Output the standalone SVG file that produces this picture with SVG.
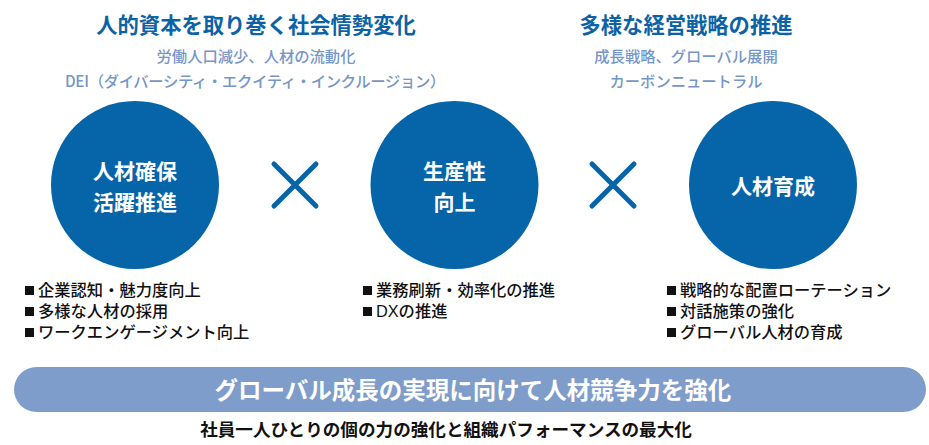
<svg xmlns="http://www.w3.org/2000/svg" width="929" height="445" viewBox="0 0 929 445">
<style>
text{font-family:"Noto Sans CJK JP","Noto Sans",sans-serif;dominant-baseline:central}
.t{font-size:21.3px;font-weight:700;fill:#0b63a6;text-anchor:middle}
.s{font-size:15.3px;font-weight:500;fill:#7596c8;text-anchor:middle}
.c{fill:#0565a8}
.ct{font-size:21px;font-weight:700;fill:#fff;text-anchor:middle}
.x{stroke:#0565a8;stroke-width:5;stroke-linecap:round;fill:none}
.b{font-family:"Liberation Sans","Noto Sans CJK JP",sans-serif;font-size:16.3px;font-weight:500;fill:#111}
.q{fill:#111}
</style>
<defs>
<rect id="sq" width="9" height="9"/>
</defs>
<g id="header-left">
<text class="t" x="256" y="23">人的資本を取り巻く社会情勢変化</text>
<text class="s" x="256" y="55">労働人口減少、人材の流動化</text>
<text class="s" x="255" y="80" letter-spacing="-0.3">DEI（ダイバーシティ・エクイティ・インクルージョン）</text>
</g>
<g id="header-right">
<text class="t" x="686" y="23">多様な経営戦略の推進</text>
<text class="s" x="686" y="55">成長戦略、グローバル展開</text>
<text class="s" x="686" y="80">カーボンニュートラル</text>
</g>
<g id="node-1">
<circle class="c" cx="135" cy="185" r="84"/>
<text class="ct" x="135" y="170">人材確保</text>
<text class="ct" x="135" y="201">活躍推進</text>
</g>
<g id="node-2">
<circle class="c" cx="454.5" cy="185" r="84"/>
<text class="ct" x="454.5" y="170">生産性</text>
<text class="ct" x="454.5" y="201">向上</text>
</g>
<g id="node-3">
<circle class="c" cx="773" cy="185" r="84"/>
<text class="ct" x="773" y="185">人材育成</text>
</g>
<g id="connectors">
<path class="x" d="M274 164L316 206M316 164L274 206"/>
<path class="x" d="M592 164L634 206M634 164L592 206"/>
</g>
<g id="list-1">
<use href="#sq" class="q" x="25" y="286"/>
<use href="#sq" class="q" x="25" y="307"/>
<use href="#sq" class="q" x="25" y="328"/>
<text class="b" x="38" y="290">企業認知・魅力度向上</text>
<text class="b" x="38" y="311">多様な人材の採用</text>
<text class="b" x="38" y="332">ワークエンゲージメント向上</text>
</g>
<g id="list-2">
<use href="#sq" class="q" x="363" y="286"/>
<use href="#sq" class="q" x="363" y="307"/>
<text class="b" x="376" y="290">業務刷新・効率化の推進</text>
<text class="b" x="376" y="311">DXの推進</text>
</g>
<g id="list-3">
<use href="#sq" class="q" x="667" y="286"/>
<use href="#sq" class="q" x="667" y="307"/>
<use href="#sq" class="q" x="667" y="328"/>
<text class="b" x="680" y="290">戦略的な配置ローテーション</text>
<text class="b" x="680" y="311">対話施策の強化</text>
<text class="b" x="680" y="332">グローバル人材の育成</text>
</g>
<g id="banner">
<rect x="14" y="367" width="912" height="45" rx="22.5" fill="#7f9dca"/>
<text x="473" y="389" font-size="23.5" font-weight="700" fill="#fff" text-anchor="middle">グローバル成長の実現に向けて人材競争力を強化</text>
</g>
<g id="footer">
<text x="446" y="428" font-size="17.6" font-weight="700" fill="#111" text-anchor="middle">社員一人ひとりの個の力の強化と組織パフォーマンスの最大化</text>
</g>
</svg>
